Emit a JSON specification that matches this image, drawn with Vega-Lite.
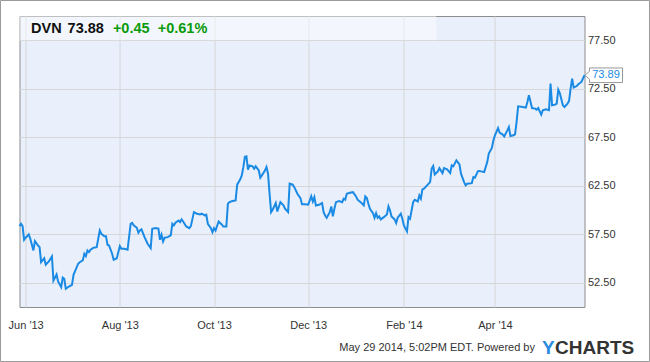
{
  "$schema": "https://vega.github.io/schema/vega-lite/v6.json",
  "width": 565,
  "height": 291,
  "autosize": {"type": "none"},
  "padding": {"left": 19.5, "top": 16, "right": 65.5, "bottom": 55},
  "background": "white",
  "config": {
    "view": {"fill": "#e9f0fc", "stroke": "#8c8c8c", "strokeWidth": 1},
    "font": "Liberation Sans"
  },
  "data": {
    "values": [
      {"d":"2013-05-28","p":58.34},{"d":"2013-05-29","p":58.58},{"d":"2013-05-30","p":58.34},{"d":"2013-05-31","p":56.93},
      {"d":"2013-06-01","p":57.14},{"d":"2013-06-03","p":57.48},{"d":"2013-06-04","p":57.04},{"d":"2013-06-06","p":55.83},
      {"d":"2013-06-07","p":56.79},{"d":"2013-06-09","p":56.34},{"d":"2013-06-10","p":56.17},{"d":"2013-06-11","p":54.62},
      {"d":"2013-06-13","p":55.03},{"d":"2013-06-14","p":54.35},{"d":"2013-06-16","p":54.69},{"d":"2013-06-18","p":55.21},
      {"d":"2013-06-19","p":52.73},{"d":"2013-06-21","p":53.35},{"d":"2013-06-22","p":52.63},{"d":"2013-06-24","p":52.04},
      {"d":"2013-06-25","p":53.04},{"d":"2013-06-26","p":52.91},{"d":"2013-06-27","p":51.88},{"d":"2013-06-29","p":52.11},
      {"d":"2013-07-01","p":52.29},{"d":"2013-07-02","p":53.32},{"d":"2013-07-05","p":54.46},{"d":"2013-07-06","p":54.62},
      {"d":"2013-07-08","p":54.80},{"d":"2013-07-09","p":55.49},{"d":"2013-07-10","p":55.24},{"d":"2013-07-11","p":55.83},
      {"d":"2013-07-12","p":55.65},{"d":"2013-07-13","p":55.90},{"d":"2013-07-15","p":56.11},{"d":"2013-07-17","p":56.17},
      {"d":"2013-07-18","p":57.04},{"d":"2013-07-19","p":57.89},{"d":"2013-07-20","p":57.55},{"d":"2013-07-22","p":57.30},
      {"d":"2013-07-23","p":57.30},{"d":"2013-07-24","p":56.42},{"d":"2013-07-25","p":56.34},{"d":"2013-07-27","p":55.49},
      {"d":"2013-07-28","p":54.87},{"d":"2013-07-30","p":55.03},{"d":"2013-08-01","p":56.27},{"d":"2013-08-02","p":56.00},
      {"d":"2013-08-04","p":56.00},{"d":"2013-08-06","p":55.90},{"d":"2013-08-08","p":58.58},{"d":"2013-08-09","p":58.67},
      {"d":"2013-08-10","p":58.41},{"d":"2013-08-12","p":58.17},{"d":"2013-08-13","p":57.65},{"d":"2013-08-14","p":57.89},
      {"d":"2013-08-15","p":58.00},{"d":"2013-08-17","p":57.20},{"d":"2013-08-19","p":56.52},{"d":"2013-08-21","p":56.07},
      {"d":"2013-08-22","p":58.07},{"d":"2013-08-24","p":58.13},{"d":"2013-08-26","p":58.07},{"d":"2013-08-27","p":56.93},
      {"d":"2013-08-28","p":57.45},{"d":"2013-08-29","p":56.76},{"d":"2013-08-30","p":57.14},{"d":"2013-09-01","p":57.20},
      {"d":"2013-09-03","p":57.38},{"d":"2013-09-04","p":58.58},{"d":"2013-09-05","p":58.41},{"d":"2013-09-06","p":58.69},
      {"d":"2013-09-08","p":58.92},{"d":"2013-09-09","p":58.75},{"d":"2013-09-10","p":59.03},{"d":"2013-09-11","p":58.82},
      {"d":"2013-09-13","p":58.30},{"d":"2013-09-15","p":58.13},{"d":"2013-09-16","p":58.34},{"d":"2013-09-18","p":59.78},
      {"d":"2013-09-20","p":59.62},{"d":"2013-09-22","p":59.54},{"d":"2013-09-23","p":59.62},{"d":"2013-09-25","p":59.44},
      {"d":"2013-09-26","p":59.51},{"d":"2013-09-27","p":58.58},{"d":"2013-09-29","p":58.13},{"d":"2013-09-30","p":57.72},
      {"d":"2013-10-01","p":58.13},{"d":"2013-10-02","p":57.89},{"d":"2013-10-04","p":58.82},{"d":"2013-10-06","p":58.51},
      {"d":"2013-10-07","p":58.30},{"d":"2013-10-09","p":58.30},{"d":"2013-10-10","p":60.65},{"d":"2013-10-11","p":60.81},
      {"d":"2013-10-13","p":60.92},{"d":"2013-10-15","p":60.99},{"d":"2013-10-16","p":62.61},{"d":"2013-10-18","p":63.16},
      {"d":"2013-10-19","p":63.57},{"d":"2013-10-20","p":64.42},{"d":"2013-10-21","p":65.48},{"d":"2013-10-22","p":65.53},
      {"d":"2013-10-23","p":64.16},{"d":"2013-10-24","p":64.60},{"d":"2013-10-26","p":64.50},{"d":"2013-10-27","p":64.26},
      {"d":"2013-10-28","p":64.50},{"d":"2013-10-30","p":64.08},{"d":"2013-10-31","p":63.33},{"d":"2013-11-01","p":63.57},
      {"d":"2013-11-03","p":64.08},{"d":"2013-11-04","p":64.42},{"d":"2013-11-05","p":63.74},{"d":"2013-11-06","p":61.68},
      {"d":"2013-11-07","p":59.78},{"d":"2013-11-08","p":60.03},{"d":"2013-11-10","p":60.71},{"d":"2013-11-11","p":59.85},
      {"d":"2013-11-13","p":60.81},{"d":"2013-11-15","p":60.47},{"d":"2013-11-16","p":60.13},{"d":"2013-11-18","p":59.78},
      {"d":"2013-11-19","p":62.71},{"d":"2013-11-21","p":62.61},{"d":"2013-11-22","p":62.36},{"d":"2013-11-23","p":62.02},
      {"d":"2013-11-24","p":61.68},{"d":"2013-11-26","p":61.23},{"d":"2013-11-27","p":60.58},{"d":"2013-11-29","p":60.58},
      {"d":"2013-12-01","p":60.54},{"d":"2013-12-03","p":61.43},{"d":"2013-12-04","p":60.88},{"d":"2013-12-05","p":61.33},
      {"d":"2013-12-06","p":60.47},{"d":"2013-12-08","p":60.54},{"d":"2013-12-10","p":60.71},{"d":"2013-12-11","p":59.78},
      {"d":"2013-12-12","p":59.44},{"d":"2013-12-13","p":59.20},{"d":"2013-12-15","p":59.78},{"d":"2013-12-16","p":60.37},
      {"d":"2013-12-17","p":59.34},{"d":"2013-12-18","p":60.13},{"d":"2013-12-19","p":60.81},{"d":"2013-12-21","p":60.92},
      {"d":"2013-12-23","p":60.81},{"d":"2013-12-24","p":61.16},{"d":"2013-12-25","p":61.06},{"d":"2013-12-26","p":61.68},
      {"d":"2013-12-28","p":61.78},{"d":"2013-12-30","p":61.84},{"d":"2014-01-01","p":61.40},{"d":"2014-01-02","p":61.06},
      {"d":"2014-01-04","p":60.81},{"d":"2014-01-06","p":60.47},{"d":"2014-01-07","p":61.40},{"d":"2014-01-08","p":61.23},
      {"d":"2014-01-09","p":60.65},{"d":"2014-01-10","p":60.13},{"d":"2014-01-12","p":59.68},{"d":"2014-01-13","p":59.20},
      {"d":"2014-01-14","p":59.68},{"d":"2014-01-15","p":59.20},{"d":"2014-01-16","p":59.34},{"d":"2014-01-17","p":59.03},
      {"d":"2014-01-19","p":59.26},{"d":"2014-01-21","p":59.54},{"d":"2014-01-22","p":60.37},{"d":"2014-01-23","p":59.96},
      {"d":"2014-01-24","p":59.34},{"d":"2014-01-26","p":59.03},{"d":"2014-01-27","p":58.65},{"d":"2014-01-28","p":59.20},
      {"d":"2014-01-30","p":59.62},{"d":"2014-01-31","p":59.10},{"d":"2014-02-01","p":58.41},{"d":"2014-02-03","p":57.79},
      {"d":"2014-02-04","p":59.26},{"d":"2014-02-05","p":59.10},{"d":"2014-02-07","p":60.81},{"d":"2014-02-08","p":61.06},
      {"d":"2014-02-10","p":60.88},{"d":"2014-02-11","p":61.50},{"d":"2014-02-12","p":61.16},{"d":"2014-02-13","p":62.12},
      {"d":"2014-02-14","p":62.20},{"d":"2014-02-16","p":62.54},{"d":"2014-02-18","p":62.88},{"d":"2014-02-19","p":64.26},
      {"d":"2014-02-20","p":64.53},{"d":"2014-02-21","p":63.67},{"d":"2014-02-23","p":63.98},{"d":"2014-02-24","p":64.32},
      {"d":"2014-02-26","p":63.81},{"d":"2014-02-27","p":64.32},{"d":"2014-03-01","p":64.19},{"d":"2014-03-03","p":63.81},
      {"d":"2014-03-04","p":64.60},{"d":"2014-03-05","p":64.50},{"d":"2014-03-07","p":65.12},{"d":"2014-03-09","p":64.70},
      {"d":"2014-03-10","p":63.74},{"d":"2014-03-12","p":62.88},{"d":"2014-03-13","p":62.54},{"d":"2014-03-14","p":62.71},
      {"d":"2014-03-17","p":62.77},{"d":"2014-03-18","p":63.39},{"d":"2014-03-19","p":63.33},{"d":"2014-03-21","p":64.01},
      {"d":"2014-03-22","p":64.03},{"d":"2014-03-23","p":63.98},{"d":"2014-03-25","p":63.91},{"d":"2014-03-27","p":64.94},
      {"d":"2014-03-28","p":65.81},{"d":"2014-03-30","p":66.39},{"d":"2014-03-31","p":67.18},{"d":"2014-04-01","p":67.70},
      {"d":"2014-04-03","p":68.45},{"d":"2014-04-04","p":67.97},{"d":"2014-04-06","p":67.77},{"d":"2014-04-07","p":67.59},
      {"d":"2014-04-09","p":68.21},{"d":"2014-04-10","p":68.55},{"d":"2014-04-11","p":67.62},{"d":"2014-04-13","p":67.70},
      {"d":"2014-04-14","p":67.80},{"d":"2014-04-15","p":69.07},{"d":"2014-04-16","p":70.69},{"d":"2014-04-19","p":70.62},
      {"d":"2014-04-21","p":70.55},{"d":"2014-04-22","p":71.13},{"d":"2014-04-23","p":71.82},{"d":"2014-04-25","p":70.51},
      {"d":"2014-04-27","p":70.45},{"d":"2014-04-28","p":70.35},{"d":"2014-04-29","p":70.51},{"d":"2014-05-01","p":69.83},
      {"d":"2014-05-02","p":70.28},{"d":"2014-05-04","p":70.38},{"d":"2014-05-06","p":70.28},{"d":"2014-05-07","p":73.03},
      {"d":"2014-05-08","p":70.79},{"d":"2014-05-10","p":70.86},{"d":"2014-05-11","p":70.97},{"d":"2014-05-12","p":72.41},
      {"d":"2014-05-13","p":72.06},{"d":"2014-05-15","p":70.79},{"d":"2014-05-16","p":70.62},{"d":"2014-05-18","p":70.97},
      {"d":"2014-05-19","p":71.24},{"d":"2014-05-20","p":72.52},{"d":"2014-05-21","p":73.55},{"d":"2014-05-22","p":72.62},
      {"d":"2014-05-24","p":72.78},{"d":"2014-05-25","p":72.96},{"d":"2014-05-27","p":73.20},{"d":"2014-05-29","p":73.89}
    ]
  },
  "layer": [
    {
      "mark": {"type": "line", "color": "#1a8ae4", "strokeWidth": 2, "interpolate": "linear"},
      "encoding": {
        "x": {
          "field": "d", "type": "temporal",
          "scale": {"type": "utc", "domain": [{"year": 2013, "month": "may", "date": 28, "utc": true}, {"year": 2014, "month": "may", "date": 29, "utc": true}]},
          "axis": {
            "title": null,
            "labelExpr": "utcFormat(datum.value, \"%b '%y\")",
            "values": [
              {"year": 2013, "month": "jun", "date": 1, "utc": true},
              {"year": 2013, "month": "aug", "date": 1, "utc": true},
              {"year": 2013, "month": "oct", "date": 1, "utc": true},
              {"year": 2013, "month": "dec", "date": 1, "utc": true},
              {"year": 2014, "month": "feb", "date": 1, "utc": true},
              {"year": 2014, "month": "apr", "date": 1, "utc": true}
            ],
            "domain": false, "ticks": false, "grid": true, "gridColor": "#d6d6d6",
            "labelFont": "Liberation Sans", "labelFontSize": 11, "labelColor": "#333333",
            "labelPadding": 12, "labelAlign": "center", "labelBaseline": "top", "labelFlush": false
          }
        },
        "y": {
          "field": "p", "type": "quantitative",
          "scale": {"domain": [50, 80], "nice": false, "zero": false},
          "axis": {
            "title": null, "orient": "right", "format": ".2f",
            "values": [52.5, 57.5, 62.5, 67.5, 72.5, 77.5],
            "domain": false, "ticks": false, "grid": true, "gridColor": "#d6d6d6",
            "labelFont": "Liberation Sans", "labelFontSize": 11, "labelColor": "#333333",
            "labelPadding": 3, "labelBaseline": "middle"
          }
        }
      }
    },
    {
      "data": {"values": [{}]},
      "mark": {"type": "rect", "fill": "#ffffff", "fillOpacity": 0.45},
      "encoding": {
        "x": {"datum": {"year": 2013, "month": "may", "date": 28, "utc": true}, "type": "temporal"},
        "x2": {"datum": {"year": 2014, "month": "feb", "date": 22, "utc": true}},
        "y": {"datum": 77.5, "type": "quantitative"},
        "y2": {"datum": 80}
      }
    },
    {
      "data": {"values": [{}]},
      "mark": {"type": "rect", "fill": null, "filled": false, "stroke": "#9a9a9a", "strokeWidth": 1, "xOffset": -19, "x2Offset": 65, "yOffset": -15.5, "y2Offset": 54.5},
      "encoding": {
        "x": {"datum": {"year": 2013, "month": "may", "date": 28, "utc": true}, "type": "temporal"},
        "x2": {"datum": {"year": 2014, "month": "may", "date": 29, "utc": true}},
        "y": {"datum": 80, "type": "quantitative"},
        "y2": {"datum": 50}
      }
    },
    {
      "data": {"values": [{}]},
      "mark": {"type": "text", "text": "DVN", "align": "left", "baseline": "middle", "fontSize": 14.5, "fontWeight": "bold", "color": "#111111", "dx": 11.6},
      "encoding": {
        "x": {"datum": {"year": 2013, "month": "may", "date": 28, "utc": true}, "type": "temporal"},
        "y": {"datum": 78.65, "type": "quantitative"}
      }
    },
    {
      "data": {"values": [{}]},
      "mark": {"type": "text", "text": "73.88", "align": "left", "baseline": "middle", "fontSize": 14.5, "fontWeight": "bold", "color": "#111111", "dx": 48.1},
      "encoding": {
        "x": {"datum": {"year": 2013, "month": "may", "date": 28, "utc": true}, "type": "temporal"},
        "y": {"datum": 78.65, "type": "quantitative"}
      }
    },
    {
      "data": {"values": [{}]},
      "mark": {"type": "text", "text": "+0.45", "align": "left", "baseline": "middle", "fontSize": 14.5, "fontWeight": "bold", "color": "#0a9a0a", "dx": 93.4},
      "encoding": {
        "x": {"datum": {"year": 2013, "month": "may", "date": 28, "utc": true}, "type": "temporal"},
        "y": {"datum": 78.65, "type": "quantitative"}
      }
    },
    {
      "data": {"values": [{}]},
      "mark": {"type": "text", "text": "+0.61%", "align": "left", "baseline": "middle", "fontSize": 14.5, "fontWeight": "bold", "color": "#0a9a0a", "dx": 138.2},
      "encoding": {
        "x": {"datum": {"year": 2013, "month": "may", "date": 28, "utc": true}, "type": "temporal"},
        "y": {"datum": 78.65, "type": "quantitative"}
      }
    },
    {
      "transform": [{"filter": "datum.p == 73.89"}],
      "mark": {"type": "point", "shape": "M 0.5 0 L 5 -4 L 5 -7.3 L 38 -7.3 L 38 7.3 L 5 7.3 L 5 4 Z", "size": 4, "filled": true, "fill": "white", "stroke": "#999999", "strokeWidth": 1, "opacity": 1},
      "encoding": {
        "x": {"field": "d", "type": "temporal"},
        "y": {"field": "p", "type": "quantitative"}
      }
    },
    {
      "transform": [{"filter": "datum.p == 73.89"}],
      "mark": {"type": "text", "align": "center", "baseline": "middle", "fontSize": 11, "color": "#1a8ae4", "dx": 21.5},
      "encoding": {
        "x": {"field": "d", "type": "temporal"},
        "y": {"field": "p", "type": "quantitative"},
        "text": {"field": "p", "type": "quantitative", "format": ".2f"}
      }
    },
    {
      "data": {"values": [{}]},
      "mark": {"type": "text", "text": "May 29 2014, 5:02PM EDT.  Powered by", "align": "right", "baseline": "middle", "fontSize": 11, "color": "#333333", "dx": -49.5},
      "encoding": {
        "x": {"datum": {"year": 2014, "month": "may", "date": 29, "utc": true}, "type": "temporal"},
        "y": {"datum": 45.74, "type": "quantitative"}
      }
    },
    {
      "data": {"values": [{}]},
      "mark": {"type": "text", "text": "Y", "align": "left", "baseline": "middle", "fontSize": 19, "fontWeight": "bold", "color": "#2a8be0", "dx": -42.5},
      "encoding": {
        "x": {"datum": {"year": 2014, "month": "may", "date": 29, "utc": true}, "type": "temporal"},
        "y": {"datum": 45.74, "type": "quantitative"}
      }
    },
    {
      "data": {"values": [{}]},
      "mark": {"type": "text", "text": "CHARTS", "align": "left", "baseline": "middle", "fontSize": 19, "fontWeight": "bold", "color": "#333333", "dx": -29.5},
      "encoding": {
        "x": {"datum": {"year": 2014, "month": "may", "date": 29, "utc": true}, "type": "temporal"},
        "y": {"datum": 45.74, "type": "quantitative"}
      }
    }
  ]
}
